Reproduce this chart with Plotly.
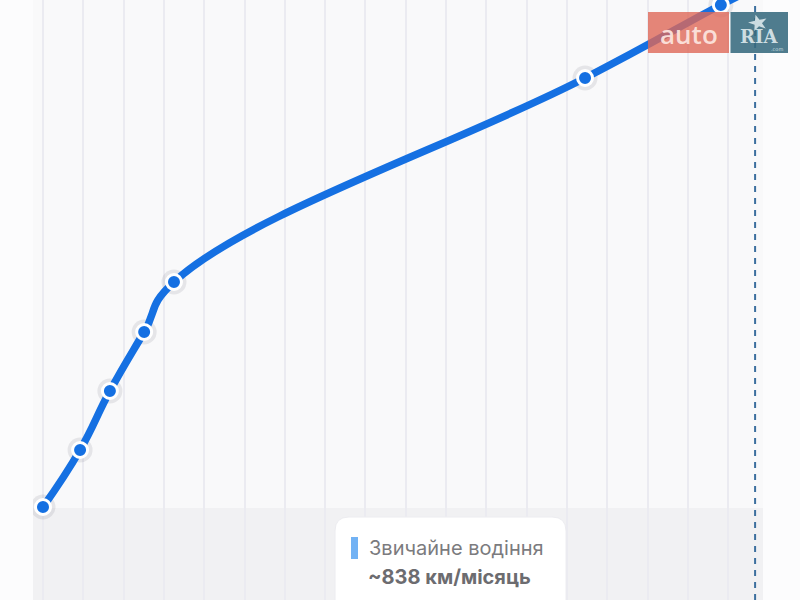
import math
import plotly.graph_objects as go

# Data (months since start vs. cumulative mileage, arbitrary units)
months = [0.0, 0.92, 1.66, 2.51, 3.25, 13.45, 16.82, 17.67]
mileage = [0.0, 2.85, 5.8, 8.75, 11.25, 21.45, 25.1, 25.95]
legend_title = "Звичайне водіння"
legend_value = "~838 км/місяць"
today_x = 17.67

W, H = 800, 600
ML, MR = 33, 37
PW = W - ML - MR

def px(x):
    # pixel -> paper x (paper is the plot area)
    return (x - ML) / PW

def py(y):
    return 1 - y / H

fig = go.Figure()

# soft shadow behind markers
fig.add_trace(go.Scatter(
    x=months[:-1], y=mileage[:-1], mode="markers",
    marker=dict(size=25, color="rgba(60,60,80,0.10)", line=dict(width=0)),
    hoverinfo="skip", showlegend=False))

fig.add_trace(go.Scatter(
    x=months, y=mileage, mode="lines",
    line=dict(color="#1570e2", width=7.5, shape="spline", smoothing=1.3),
    hoverinfo="skip", showlegend=False))

fig.add_trace(go.Scatter(
    x=months[:-1], y=mileage[:-1], mode="markers",
    marker=dict(size=15, color="#1570e2", line=dict(color="white", width=3)),
    hoverinfo="skip", showlegend=False))

shapes = []
# bottom grey band
shapes.append(dict(type="rect", xref="paper", yref="paper", x0=0, x1=1, y0=0, y1=py(508),
                   fillcolor="#f1f1f3", line=dict(width=0), layer="below"))
# today dashed line
shapes.append(dict(type="line", xref="x", yref="paper", x0=today_x, x1=today_x, y0=0, y1=1,
                   line=dict(color="#3c6f9e", width=2, dash="6px,6px"), layer="above"))

# legend box with rounded corners (paper coords)
bx0, bx1, by0, by1, r = 335, 566, 517, 615, 14
rx, ry = r / PW, r / H
X0, X1, Yt, Yb = px(bx0), px(bx1), py(by0), py(by1)
path = (f"M {X0+rx},{Yt} L {X1-rx},{Yt} Q {X1},{Yt} {X1},{Yt-ry} "
        f"L {X1},{Yb+ry} Q {X1},{Yb} {X1-rx},{Yb} L {X0+rx},{Yb} "
        f"Q {X0},{Yb} {X0},{Yb+ry} L {X0},{Yt-ry} Q {X0},{Yt} {X0+rx},{Yt} Z")
shapes.append(dict(type="path", xref="paper", yref="paper", path=path,
                   fillcolor="white", line=dict(color="#ececf0", width=1), layer="above"))
# legend colour bar
shapes.append(dict(type="rect", xref="paper", yref="paper", x0=px(351), x1=px(358),
                   y0=py(559), y1=py(537), fillcolor="#72b2f4", line=dict(width=0), layer="above"))

# watermark logo
shapes.append(dict(type="rect", xref="paper", yref="paper", x0=px(648), x1=px(729),
                   y0=py(53), y1=py(12), fillcolor="rgba(222,104,88,0.80)", line=dict(width=0), layer="above"))
shapes.append(dict(type="rect", xref="paper", yref="paper", x0=px(730.5), x1=px(788),
                   y0=py(53), y1=py(12), fillcolor="rgba(55,106,126,0.88)", line=dict(width=0), layer="above"))
# star of the logo
cx, cy, ro, ri, rot = 758, 23, 10, 4, -0.25
pts = []
for k in range(10):
    ang = -math.pi / 2 + rot + k * math.pi / 5
    rr = ro if k % 2 == 0 else ri
    pts.append((px(cx + rr * math.cos(ang)), py(cy + rr * math.sin(ang) * 0.85)))
star = "M " + " L ".join(f"{a},{b}" for a, b in pts) + " Z"
shapes.append(dict(type="path", xref="paper", yref="paper", path=star,
                   fillcolor="rgba(215,228,232,0.92)", line=dict(width=0), layer="above"))

annotations = [
    dict(text=legend_title, xref="paper", yref="paper", x=px(367), y=py(548), xanchor="left", yanchor="middle",
         showarrow=False, font=dict(family="Inter, Roboto, sans-serif", size=20, color="#7b7b7e")),
    dict(text=f"<b>{legend_value}</b>", xref="paper", yref="paper", x=px(366), y=py(577), xanchor="left",
         yanchor="middle", showarrow=False, font=dict(family="Inter, Roboto, sans-serif", size=20, color="#6c6c70")),
    dict(text="auto", xref="paper", yref="paper", x=px(689), y=py(34), xanchor="center", yanchor="middle",
         showarrow=False, font=dict(family="Open Sans, sans-serif", size=26, weight=600,
                                    color="rgba(252,228,222,0.95)")),
    dict(text="<b>RIA</b>", xref="paper", yref="paper", x=px(759), y=py(36), xanchor="center", yanchor="middle",
         showarrow=False, font=dict(family="DejaVu Serif, serif", size=18, color="rgba(215,228,232,0.95)")),
    dict(text=".com", xref="paper", yref="paper", x=px(777), y=py(49), xanchor="center", yanchor="middle",
         showarrow=False, font=dict(family="DejaVu Sans", size=5, color="rgba(215,228,232,0.95)")),
]

x_left = (33 - 43) / 40.3
x_right = (763 - 43) / 40.3

fig.update_layout(
    width=W, height=H,
    margin=dict(l=ML, r=MR, t=0, b=0),
    paper_bgcolor="#fcfcfd",
    plot_bgcolor="#f9f9fa",
    shapes=shapes,
    annotations=annotations,
    xaxis=dict(range=[x_left, x_right], tick0=0, dtick=1, showgrid=True, gridcolor="#ebebf1",
               gridwidth=2, zeroline=False, showticklabels=False, ticks="", showline=False,
               fixedrange=True),
    yaxis=dict(range=[(507 - 600) / 20, 507 / 20], showgrid=False, zeroline=False,
               showticklabels=False, ticks="", showline=False, fixedrange=True),
)

fig.write_html("out.html", config={"displayModeBar": False})

# remove the default page margin so the figure sits at the window's top-left corner
with open("out.html", "r", encoding="utf-8") as f:
    html = f.read()
html = html.replace("<head>", "<head><style>html,body{margin:0;padding:0;overflow:hidden;}</style>", 1)
with open("out.html", "w", encoding="utf-8") as f:
    f.write(html)
